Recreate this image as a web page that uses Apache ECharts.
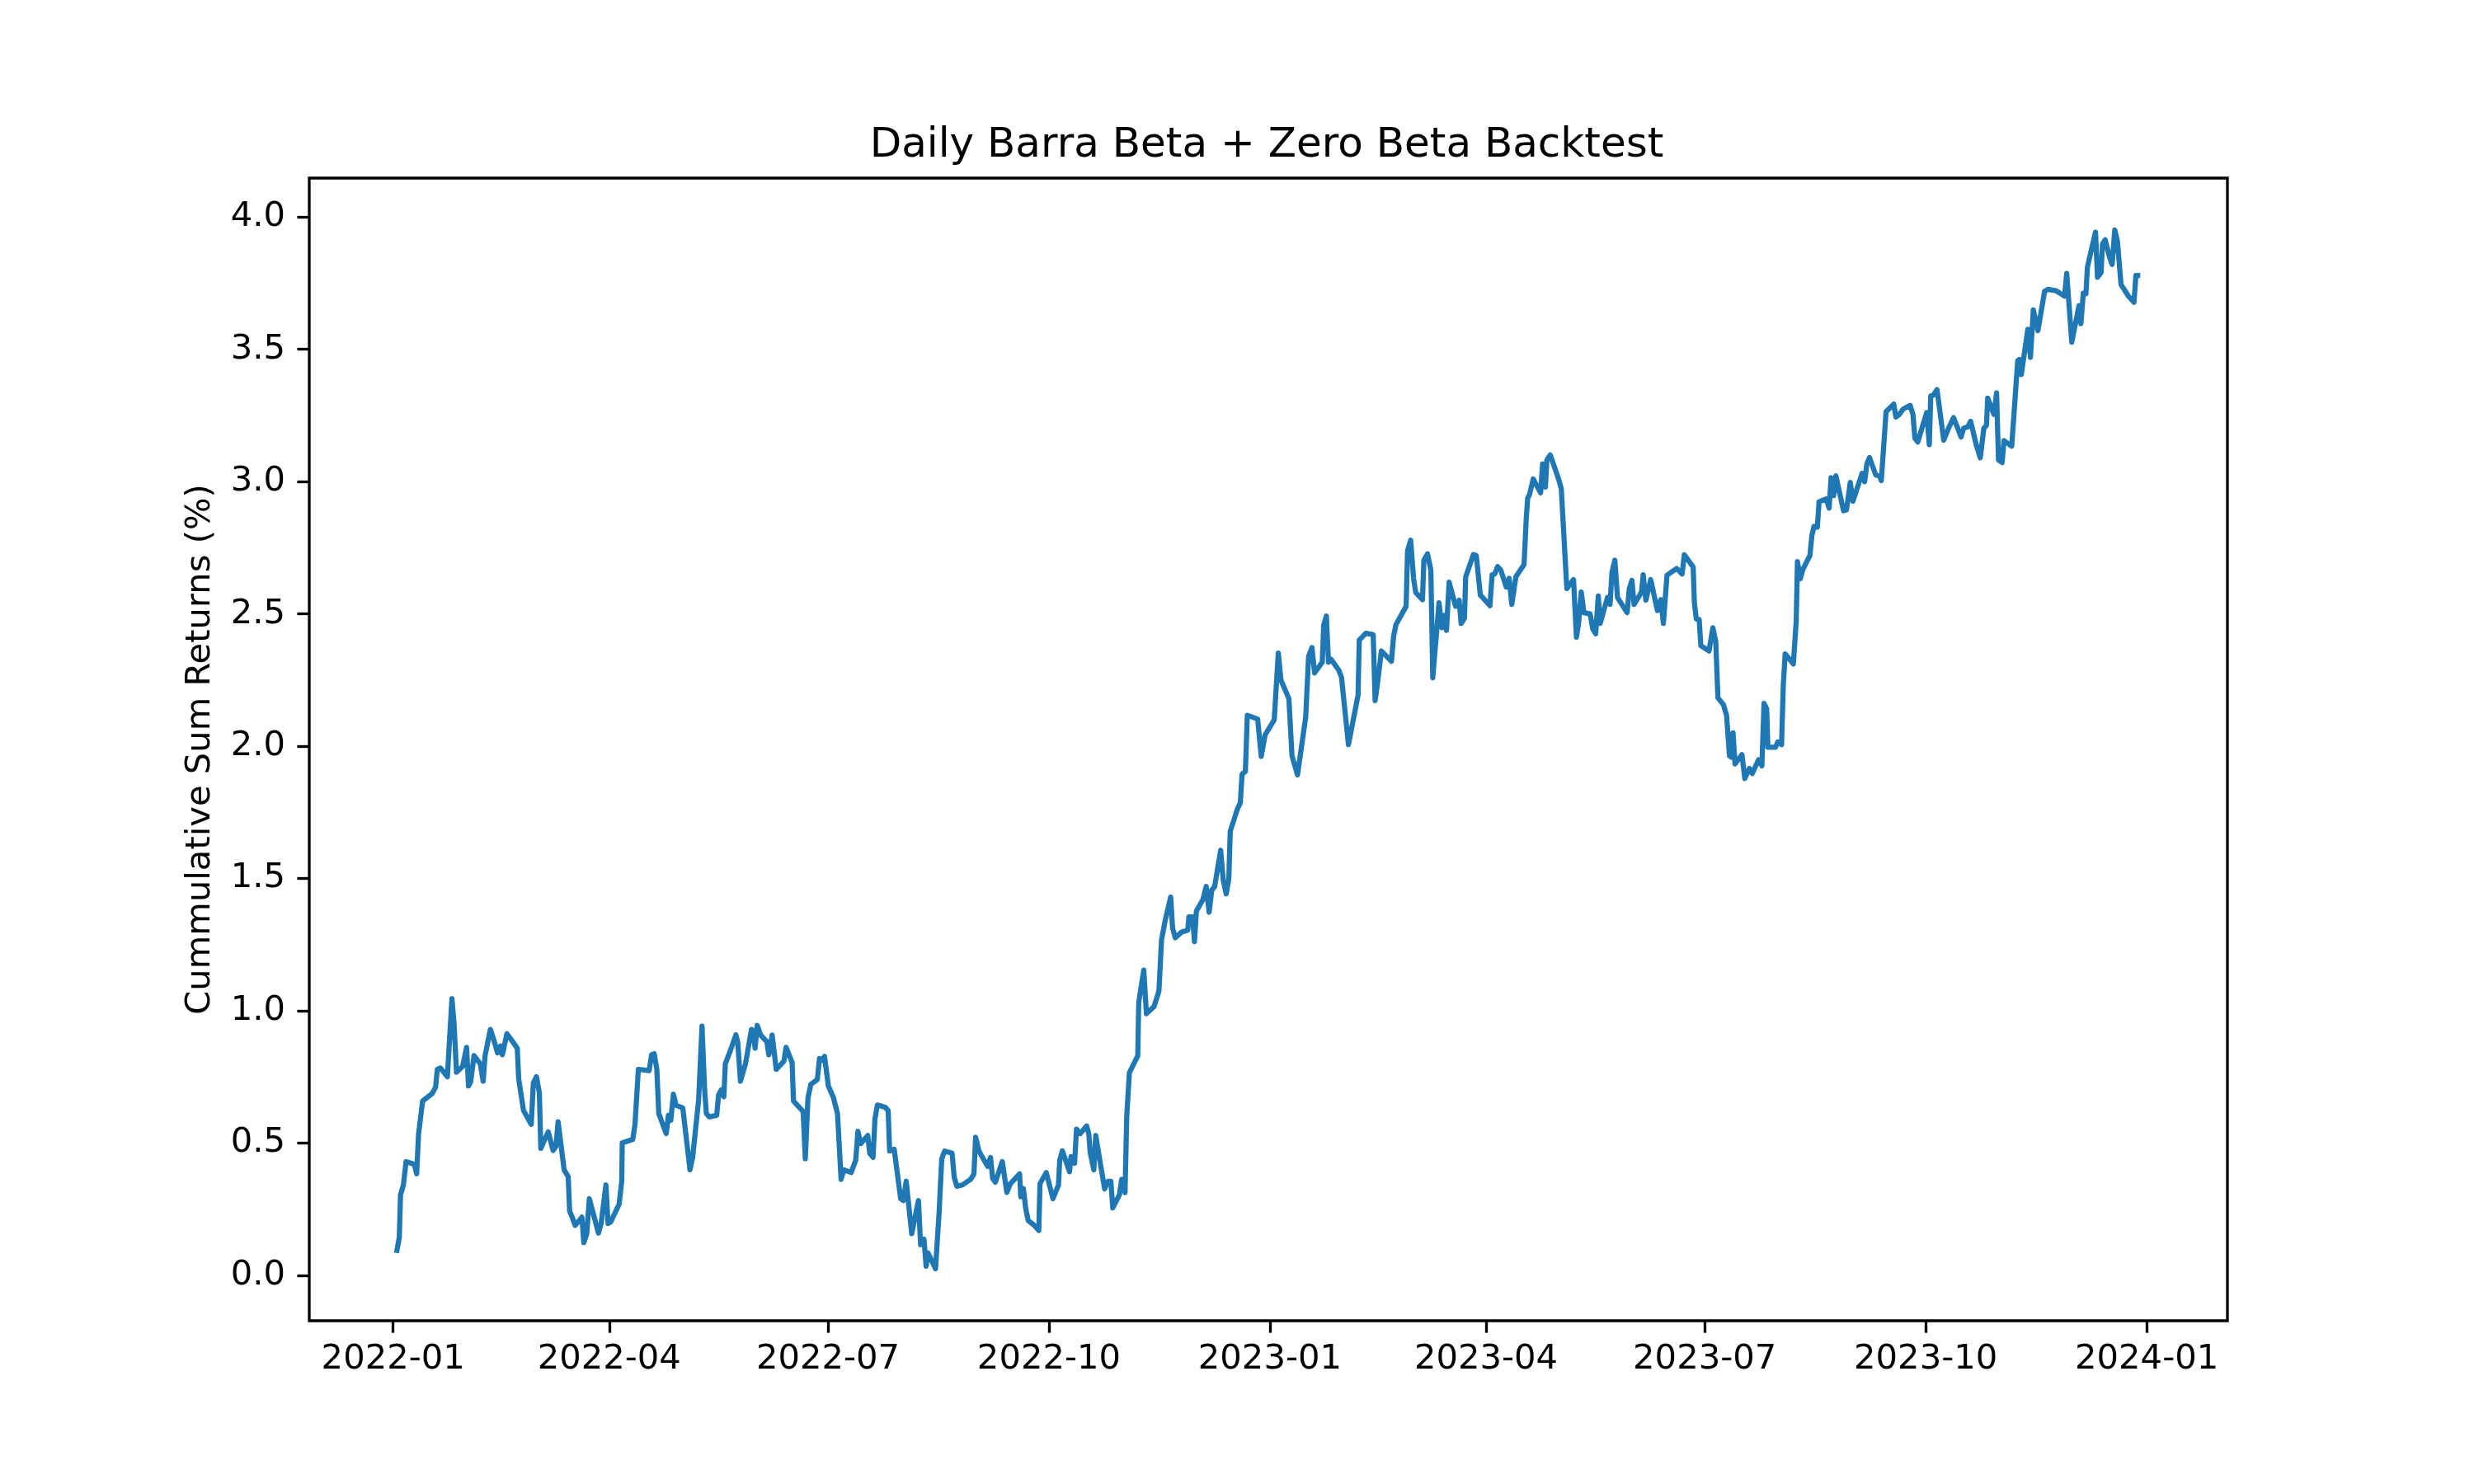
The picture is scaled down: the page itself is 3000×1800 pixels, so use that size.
<!DOCTYPE html>
<html>
<head>
<meta charset="utf-8">
<script src="https://cdn.jsdelivr.net/npm/echarts@6/dist/echarts.min.js"></script>
<style>
  html, body { margin: 0; padding: 0; background: #fff; }
  #chart { width: 3000px; height: 1800px; }
</style>
</head>
<body>
<div id="chart"></div>
<script>
// days after 2022-01-01
var dayOffsets = [
    1.4, 2.6, 3.1, 4.3, 5.4, 8.9, 9.8, 10.6, 12.3, 16.3, 17.7, 18.4, 19.7, 22.6, 24.5, 25.4, 26.4, 28.9, 30.6, 31.4,
    32.3, 33.7, 36.3, 37.5, 38.3, 40.5, 42.0, 43.5, 44.7, 45.5, 47.4, 51.7, 52.3, 54.3, 57.5, 58.4, 59.7, 60.9, 61.5, 62.6,
    64.6, 66.6, 67.8, 68.7, 71.2, 71.8, 72.9, 73.5, 74.4, 75.8, 78.6, 79.4, 80.6, 81.7, 85.5, 86.6, 88.6, 89.5, 90.6, 94.1,
    95.2, 95.4, 99.8, 100.7, 102.1, 106.6, 107.6, 108.7, 109.8, 110.6, 113.7, 114.6, 115.6, 116.7, 117.8, 120.6, 123.6, 124.7, 127.2, 128.6,
    129.7, 130.4, 131.6, 134.7, 135.5, 136.6, 137.7, 138.3, 140.9, 142.7, 143.5, 144.6, 146.7, 149.2, 149.9, 150.7, 151.6, 153.0, 155.6, 156.4,
    157.8, 159.5, 162.7, 163.6, 166.1, 166.7, 170.7, 171.6, 172.7, 173.9, 176.6, 177.5, 178.7, 179.6, 181.2, 183.3, 185.0, 186.5, 187.6, 190.7,
    192.6, 193.5, 194.7, 197.6, 198.4, 199.8, 200.6, 201.6, 204.8, 206.1, 206.7, 208.6, 211.3, 212.4, 213.6, 215.9, 218.7, 219.6, 221.0, 221.9,
    222.7, 225.8, 227.3, 228.4, 229.6, 232.7, 233.6, 234.7, 237.0, 240.4, 241.8, 242.5, 243.9, 247.5, 248.7, 249.6, 250.7, 253.6, 255.5, 257.0,
    260.8, 261.3, 262.4, 263.3, 264.4, 266.7, 268.8, 269.3, 271.9, 274.7, 277.0, 277.5, 278.6, 281.6, 282.2, 283.7, 284.5, 286.0, 288.7, 289.6,
    290.2, 291.7, 292.5, 294.2, 296.2, 297.6, 298.8, 299.6, 302.4, 303.3, 303.9, 304.7, 305.4, 306.5, 310.0, 310.4, 312.5, 313.6, 316.8, 318.8,
    319.9, 321.4, 323.7, 324.5, 325.6, 328.3, 330.8, 331.3, 332.8, 333.6, 334.4, 337.1, 338.5, 339.7, 340.8, 342.0, 344.5, 345.6, 346.8, 347.9,
    348.5, 351.4, 352.7, 353.4, 354.8, 355.6, 359.9, 361.4, 363.0, 366.8, 368.5, 369.6, 372.9, 374.2, 376.5, 379.9, 381.1, 382.5, 383.6, 386.8,
    387.4, 388.5, 389.4, 390.5, 393.7, 394.8, 397.7, 401.7, 402.2, 404.9, 408.0, 408.8, 409.9, 411.4, 415.6, 416.5, 417.5, 421.7, 422.3, 423.6,
    424.8, 425.7, 428.5, 429.1, 430.6, 432.0, 432.8, 435.4, 436.6, 437.3, 438.5, 439.6, 442.3, 443.8, 444.6, 446.0, 446.5, 449.7, 450.9, 452.6,
    453.4, 456.6, 457.5, 458.6, 459.8, 461.1, 463.4, 464.6, 465.7, 467.4, 470.8, 471.7, 472.3, 473.1, 474.6, 477.7, 478.5, 479.7, 480.3, 481.7,
    485.1, 486.3, 488.6, 491.4, 492.6, 493.5, 494.6, 495.7, 498.3, 499.4, 500.6, 501.7, 502.5, 505.5, 506.6, 507.4, 508.6, 509.7, 513.7, 514.6,
    515.7, 516.6, 519.7, 520.4, 521.5, 523.5, 526.3, 527.7, 528.8, 530.3, 534.3, 536.6, 537.5, 541.2, 541.7, 542.5, 543.7, 544.4, 547.8, 549.4,
    550.6, 551.5, 553.8, 555.1, 556.3, 557.0, 557.8, 558.6, 561.5, 562.7, 564.6, 565.8, 568.4, 569.8, 570.7, 571.8, 572.3, 575.5, 576.4, 578.0,
    578.7, 579.5, 582.9, 584.1, 584.6, 585.8, 586.9, 589.8, 590.6, 591.5, 592.9, 593.6, 596.6, 597.8, 598.6, 599.7, 600.6, 603.8, 605.0, 606.6,
    607.7, 611.5, 612.6, 613.5, 614.6, 617.2, 618.7, 619.5, 619.8, 621.5, 624.7, 625.6, 627.0, 628.7, 631.5, 632.7, 633.5, 634.7, 638.4, 639.5,
    640.1, 641.2, 642.7, 645.5, 647.5, 649.6, 652.7, 653.8, 655.5, 656.7, 659.0, 660.7, 662.2, 663.3, 663.8, 666.4, 667.5, 668.3, 669.8, 670.6,
    673.8, 676.3, 677.0, 677.8, 680.5, 681.6, 682.8, 684.7, 687.5, 688.9, 690.7, 692.1, 695.0, 695.8, 696.7, 698.8, 700.1, 701.8, 702.6, 703.6,
    704.7, 705.3, 707.0, 708.7, 709.5, 711.0, 711.6, 712.7, 714.4, 715.6, 716.7, 717.8, 719.3, 722.4, 724.7, 725.5, 727.3
];

var cumReturns = [
    0.085, 0.144, 0.305, 0.342, 0.430, 0.420, 0.384, 0.534, 0.659, 0.688, 0.711, 0.779, 0.784, 0.751, 1.046, 0.950, 0.768, 0.789, 0.862, 0.716,
    0.732, 0.831, 0.800, 0.734, 0.831, 0.930, 0.888, 0.841, 0.867, 0.834, 0.914, 0.859, 0.742, 0.623, 0.571, 0.727, 0.751, 0.690, 0.480, 0.503,
    0.543, 0.472, 0.488, 0.581, 0.399, 0.394, 0.373, 0.243, 0.224, 0.189, 0.220, 0.124, 0.155, 0.290, 0.160, 0.196, 0.342, 0.196, 0.202, 0.269,
    0.358, 0.501, 0.514, 0.571, 0.779, 0.774, 0.834, 0.838, 0.779, 0.612, 0.536, 0.605, 0.586, 0.685, 0.643, 0.633, 0.399, 0.446, 0.664, 0.942,
    0.701, 0.612, 0.599, 0.605, 0.682, 0.701, 0.675, 0.800, 0.862, 0.909, 0.880, 0.734, 0.800, 0.930, 0.924, 0.859, 0.945, 0.909, 0.883, 0.834,
    0.909, 0.779, 0.810, 0.862, 0.805, 0.659, 0.620, 0.441, 0.670, 0.722, 0.740, 0.820, 0.813, 0.828, 0.716, 0.672, 0.612, 0.363, 0.399, 0.389,
    0.436, 0.545, 0.498, 0.529, 0.462, 0.446, 0.592, 0.644, 0.636, 0.623, 0.470, 0.477, 0.290, 0.283, 0.356, 0.158, 0.283, 0.116, 0.137, 0.035,
    0.085, 0.025, 0.238, 0.441, 0.470, 0.462, 0.370, 0.337, 0.342, 0.363, 0.384, 0.522, 0.470, 0.412, 0.446, 0.366, 0.352, 0.430, 0.314, 0.347,
    0.384, 0.297, 0.328, 0.256, 0.207, 0.191, 0.170, 0.347, 0.389, 0.290, 0.342, 0.435, 0.471, 0.392, 0.449, 0.424, 0.553, 0.536, 0.565, 0.536,
    0.464, 0.399, 0.529, 0.435, 0.327, 0.356, 0.356, 0.255, 0.306, 0.363, 0.363, 0.313, 0.600, 0.766, 0.830, 1.032, 1.154, 0.989, 1.017, 1.075,
    1.269, 1.341, 1.430, 1.312, 1.276, 1.298, 1.305, 1.355, 1.355, 1.262, 1.377, 1.420, 1.470, 1.373, 1.456, 1.470, 1.607, 1.492, 1.442, 1.499,
    1.679, 1.761, 1.787, 1.894, 1.905, 2.117, 2.103, 1.962, 2.043, 2.100, 2.352, 2.250, 2.180, 1.964, 1.892, 2.110, 2.339, 2.373, 2.277, 2.318,
    2.458, 2.492, 2.318, 2.328, 2.287, 2.261, 2.006, 2.193, 2.401, 2.427, 2.422, 2.172, 2.245, 2.360, 2.321, 2.417, 2.460, 2.529, 2.739, 2.779,
    2.635, 2.581, 2.554, 2.703, 2.727, 2.666, 2.259, 2.542, 2.448, 2.495, 2.438, 2.620, 2.529, 2.552, 2.464, 2.484, 2.640, 2.724, 2.721, 2.571,
    2.564, 2.531, 2.648, 2.651, 2.679, 2.666, 2.602, 2.635, 2.536, 2.641, 2.687, 2.859, 2.937, 2.952, 3.010, 2.958, 3.067, 2.979, 3.082, 3.101,
    3.012, 2.973, 2.596, 2.630, 2.412, 2.464, 2.583, 2.505, 2.500, 2.443, 2.425, 2.568, 2.464, 2.562, 2.536, 2.658, 2.703, 2.562, 2.505, 2.594,
    2.627, 2.536, 2.583, 2.648, 2.552, 2.630, 2.513, 2.554, 2.464, 2.646, 2.672, 2.651, 2.724, 2.677, 2.542, 2.481, 2.479, 2.380, 2.360, 2.448,
    2.396, 2.183, 2.157, 2.117, 1.964, 1.959, 2.051, 1.933, 1.968, 1.878, 1.916, 1.897, 1.949, 1.926, 2.162, 2.141, 1.996, 1.996, 2.016, 2.006,
    2.230, 2.349, 2.311, 2.474, 2.698, 2.633, 2.669, 2.721, 2.796, 2.831, 2.828, 2.924, 2.935, 2.900, 3.015, 2.947, 3.022, 2.890, 2.893, 2.997,
    2.926, 3.031, 3.000, 3.067, 3.091, 3.025, 3.022, 3.004, 3.041, 3.265, 3.293, 3.244, 3.254, 3.275, 3.288, 3.254, 3.164, 3.150, 3.261, 3.140,
    3.324, 3.327, 3.348, 3.157, 3.202, 3.242, 3.169, 3.202, 3.207, 3.228, 3.140, 3.090, 3.202, 3.213, 3.316, 3.254, 3.335, 3.082, 3.072, 3.155,
    3.134, 3.457, 3.462, 3.405, 3.576, 3.470, 3.649, 3.571, 3.720, 3.727, 3.724, 3.722, 3.706, 3.701, 3.787, 3.527, 3.587, 3.665, 3.597, 3.712,
    3.710, 3.810, 3.878, 3.943, 3.772, 3.790, 3.899, 3.914, 3.852, 3.821, 3.951, 3.909, 3.745, 3.701, 3.678, 3.779, 3.779
];

var xTickDates = ['2022-01', '2022-04', '2022-07', '2022-10', '2023-01', '2023-04', '2023-07', '2023-10', '2024-01'];
var yTicks = [0.0, 0.5, 1.0, 1.5, 2.0, 2.5, 3.0, 3.5, 4.0];

var DAY = 86400000;
var START = Date.UTC(2022, 0, 1);

function monthStamp(s) {
    var p = s.split('-');
    return Date.UTC(+p[0], +p[1] - 1, 1);
}

var seriesData = dayOffsets.map(function (d, i) {
    return [START + d * DAY, cumReturns[i]];
});
var xTickStamps = xTickDates.map(monthStamp);

// matplotlib style 5% margins
var xFirst = seriesData[0][0], xLast = seriesData[seriesData.length - 1][0];
var xPad = (xLast - xFirst) * 0.05;
var yLo = Math.min.apply(null, cumReturns), yHi = Math.max.apply(null, cumReturns);
var yPad = (yHi - yLo) * 0.05;

var pt = 300 / 72;
var fontFam = '"DejaVu Sans", sans-serif';

var chart = echarts.init(document.getElementById('chart'));
var option = {
    animation: false,
    backgroundColor: '#ffffff',
    title: {
        text: 'Daily Barra Beta + Zero Beta Backtest',
        left: 1531,
        top: 147,
        textAlign: 'center',
        textStyle: {
            fontFamily: fontFam,
            fontSize: 12 * pt,
            fontWeight: 'normal',
            color: '#000'
        }
    },
    grid: {
        left: 375,
        right: 299,
        top: 216,
        bottom: 198,
        show: true,
        borderColor: '#000',
        borderWidth: 0.8 * pt,
        backgroundColor: 'transparent'
    },
    xAxis: {
        type: 'value',
        position: 'bottom',
        min: xFirst - xPad,
        max: xLast + xPad,
        splitLine: { show: false },
        axisLine: { show: false, onZero: false },
        axisTick: {
            show: true,
            customValues: xTickStamps,
            length: 3.5 * pt,
            lineStyle: { color: '#000', width: 0.8 * pt }
        },
        axisLabel: {
            customValues: xTickStamps,
            margin: 26,
            fontFamily: fontFam,
            fontSize: 10 * pt,
            color: '#000',
            hideOverlap: false,
            formatter: function (v) {
                var d = new Date(v);
                var m = d.getUTCMonth() + 1;
                return d.getUTCFullYear() + '-' + (m < 10 ? '0' + m : m);
            }
        }
    },
    yAxis: {
        type: 'value',
        position: 'left',
        min: yLo - yPad,
        max: yHi + yPad,
        name: 'Cummulative Sum Returns (%)',
        nameLocation: 'middle',
        nameGap: 111,
        nameRotate: 90,
        nameTextStyle: {
            fontFamily: fontFam,
            fontSize: 10 * pt,
            color: '#000'
        },
        splitLine: { show: false },
        axisLine: { show: false, onZero: false },
        axisTick: {
            show: true,
            customValues: yTicks,
            length: 3.5 * pt,
            lineStyle: { color: '#000', width: 0.8 * pt }
        },
        axisLabel: {
            customValues: yTicks,
            margin: 29,
            fontFamily: fontFam,
            fontSize: 10 * pt,
            color: '#000',
            formatter: function (v) { return v.toFixed(1); }
        }
    },
    series: [{
        type: 'line',
        data: seriesData,
        showSymbol: false,
        symbol: 'none',
        lineStyle: {
            color: '#1f77b4',
            width: 1.5 * pt,
            join: 'round'
        }
    }]
};
chart.setOption(option);
</script>
</body>
</html>
